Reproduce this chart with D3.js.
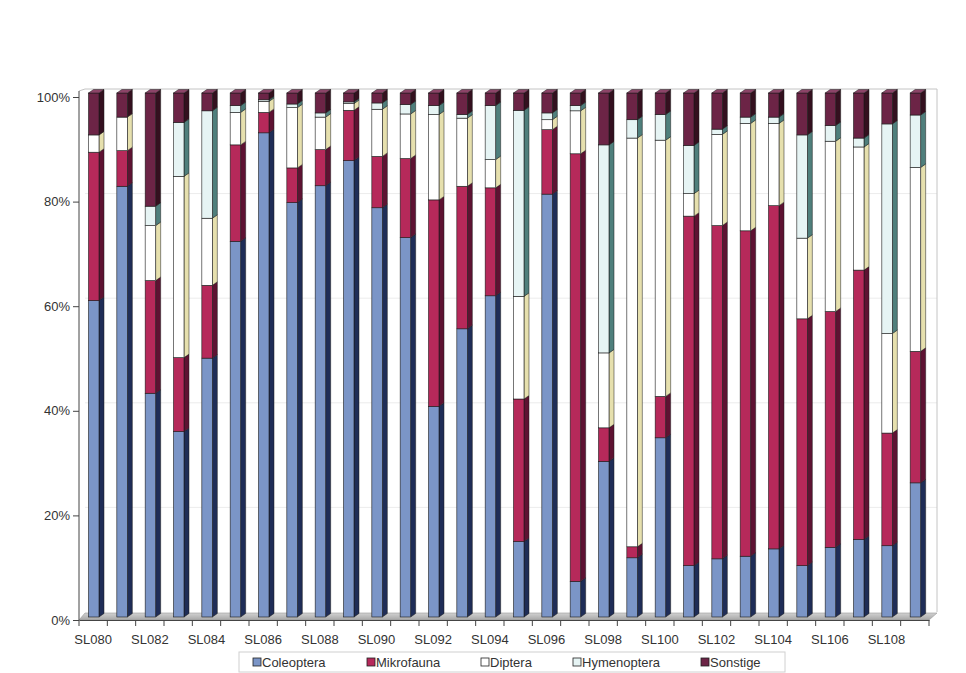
<!DOCTYPE html>
<html><head><meta charset="utf-8">
<script src="https://cdn.jsdelivr.net/npm/d3@7"></script>
<style>body{margin:0;background:#fff}text{font-family:"Liberation Sans",Arial,sans-serif}</style>
</head><body>
<svg id="c" width="966" height="673"></svg>
<script>
const categories = ["SL080","SL081","SL082","SL083","SL084","SL085","SL086","SL087","SL088","SL089",
  "SL090","SL091","SL092","SL093","SL094","SL095","SL096","SL097","SL098","SL099",
  "SL100","SL101","SL102","SL103","SL104","SL105","SL106","SL107","SL108","SL109"];
const coleoptera = [60.4,82.2,42.7,35.4,49.4,71.7,92.4,79.1,82.3,87.1,78.1,72.4,40.2,55.0,61.3,14.4,80.7,6.8,29.7,11.3,34.2,9.8,11.1,11.6,13.0,9.8,13.3,14.8,13.6,25.6];
const mikrofauna = [28.3,6.8,21.5,14.1,13.9,18.4,3.9,6.6,6.9,9.6,9.8,15.1,39.4,27.2,20.6,27.2,12.3,81.6,6.4,2.1,7.9,66.7,63.6,62.1,65.5,47.1,45.0,51.4,21.5,25.1];
const diptera = [3.3,6.4,10.5,34.6,12.8,6.2,2.1,11.5,6.2,1.3,9.0,8.5,16.3,13.0,5.4,19.6,1.9,8.2,14.3,78.0,48.9,4.3,17.4,20.5,15.7,15.4,32.5,23.5,19.0,35.1];
const hymenoptera = [0,0,3.7,10.3,20.5,1.3,0.3,0.7,0.8,0.3,1.2,1.8,1.7,0.7,10.3,35.5,1.3,1.0,39.7,3.5,4.9,9.2,1.0,1.2,1.2,19.7,3.0,1.7,40.0,10.0];
const sonstige = [8.0,4.6,21.6,5.6,3.4,2.4,1.3,2.1,3.8,1.7,1.9,2.2,2.4,4.1,2.4,3.3,3.8,2.4,9.9,5.1,4.1,10.0,6.9,4.6,4.6,8.0,6.2,8.6,5.9,4.2];
const seriesNames = ["Coleoptera","Mikrofauna","Diptera","Hymenoptera","Sonstige"];
const yTickValues = [0,0.2,0.4,0.6,0.8,1];
const xLabelEvery = 2;

const frontColors = ["#7b95c7","#b6295a","#ffffff","#e6f4f4","#6c2446"];
const sideColors  = ["#1f2d57","#5e1232","#e6e0ae","#4f7f7c","#34101f"];
const topColors   = ["#9fb4dc","#d0557f","#ffffff","#f4fbfb","#8c4468"];

const table = categories.map((c,i)=>({cat:c, Coleoptera:coleoptera[i], Mikrofauna:mikrofauna[i],
  Diptera:diptera[i], Hymenoptera:hymenoptera[i], Sonstige:sonstige[i]}));
const stacked = d3.stack().keys(seriesNames).offset(d3.stackOffsetExpand)(table);

const svg = d3.select("#c");
const axisLeft = 79, axisRight = 929, axisBottom = 620, axisTop = 97;
const wallDX = 6, wallDY = -8;
const x = d3.scaleBand().domain(categories).range([axisLeft, axisRight]);
const yAxis = d3.scaleLinear().domain([0,1]).range([axisBottom, axisTop]);
const yBar = d3.scaleLinear().domain([0,1]).range([617, 93]);
const bw = x.bandwidth();
const frontOff = 9.5, frontW = 10.5, bdx = 5, bdy = -3.5;

const g0 = svg.append("g");
g0.selectAll("line.grid").data(yTickValues.slice(1,-1)).join("line")
  .attr("x1", axisLeft+wallDX).attr("x2", axisRight+wallDX+2)
  .attr("y1", d=>yAxis(d)+wallDY).attr("y2", d=>yAxis(d)+wallDY)
  .attr("stroke","#ececec").attr("stroke-width",1);
g0.append("path")
  .attr("d", `M${axisLeft},${yAxis(1)-6} L${axisLeft+wallDX},${yAxis(1)+wallDY} L${axisRight+wallDX+2},${yAxis(1)+wallDY} L${axisRight+wallDX+2},${yAxis(0)+wallDY}`)
  .attr("fill","none").attr("stroke","#c4c4c4").attr("stroke-width",1);
const defs = svg.append("defs");
const lg = defs.append("linearGradient").attr("id","floor").attr("x1",0).attr("y1",1).attr("x2",0).attr("y2",0);
lg.append("stop").attr("offset","0").attr("stop-color","#a6a6a6");
lg.append("stop").attr("offset","1").attr("stop-color","#d2d2d2");
g0.append("path")
  .attr("d", `M${axisLeft},${axisBottom} L${axisRight},${axisBottom} L${axisRight+wallDX+2},${axisBottom+wallDY+1} L${axisLeft+wallDX},${axisBottom+wallDY+1} Z`)
  .attr("fill","url(#floor)").attr("stroke","#999").attr("stroke-width",0.6);

const gb = svg.append("g");
stacked.forEach((layer, si) => {
  const isTop = si === stacked.length-1;
  layer.forEach((d, i) => {
    if (d[1]-d[0] <= 0) return;
    const x0 = x(categories[i]) + frontOff;
    const yT = yBar(d[1]), yB = yBar(d[0]);
    gb.append("path")
      .attr("d", `M${x0+frontW},${yT} L${x0+frontW+bdx},${yT+bdy} L${x0+frontW+bdx},${yB+bdy} L${x0+frontW},${yB} Z`)
      .attr("fill", sideColors[si]).attr("stroke","#1a1a1a").attr("stroke-width",0.5);
    gb.append("rect").attr("x", x0).attr("y", yT).attr("width", frontW).attr("height", Math.max(0, yB-yT))
      .attr("fill", frontColors[si]).attr("stroke","#1a1a1a").attr("stroke-width",0.6);
    if (isTop) {
      gb.append("path")
        .attr("d", `M${x0},${yT} L${x0+bdx},${yT+bdy} L${x0+frontW+bdx},${yT+bdy} L${x0+frontW},${yT} Z`)
        .attr("fill", topColors[si]).attr("stroke","#1a1a1a").attr("stroke-width",0.5);
    }
  });
});

const ya = svg.append("g").attr("transform",`translate(${axisLeft},0)`)
  .call(d3.axisLeft(yAxis).tickValues(yTickValues).tickFormat(d3.format(".0%")).tickSize(6).tickPadding(3));
ya.select(".domain").attr("d", `M0,${axisBottom}V${yAxis(1)-6}`).attr("stroke","#444");
ya.selectAll(".tick line").attr("stroke","#444");
ya.selectAll("text").attr("font-size",13).attr("fill","#333");

const xa = svg.append("g").attr("transform",`translate(0,${axisBottom})`)
  .call(d3.axisBottom(x).tickSize(0).tickPadding(15)
    .tickFormat((d,i)=> i % xLabelEvery === 0 ? d : ""));
xa.select(".domain").attr("stroke","#444");
xa.selectAll("text").attr("font-size",13).attr("fill","#333");
xa.selectAll("line.bt").data(d3.range(categories.length+1)).join("line").attr("class","bt")
  .attr("x1", i=>axisLeft+i*bw).attr("x2", i=>axisLeft+i*bw)
  .attr("y1",0).attr("y2",6).attr("stroke","#444");

const lgX = [253,367,481,573,701];
const legend = svg.append("g");
legend.append("rect").attr("x",239).attr("y",652).attr("width",546).attr("height",20)
  .attr("fill","#fff").attr("stroke","#d0d0d0");
seriesNames.forEach((n,i)=>{
  legend.append("rect").attr("x",lgX[i]).attr("y",658).attr("width",8).attr("height",8)
    .attr("fill",frontColors[i]).attr("stroke","#222").attr("stroke-width",0.8);
  legend.append("text").attr("x",lgX[i]+9).attr("y",666.5).attr("font-size",13).attr("fill","#333").text(n);
});
</script>
</body></html>
